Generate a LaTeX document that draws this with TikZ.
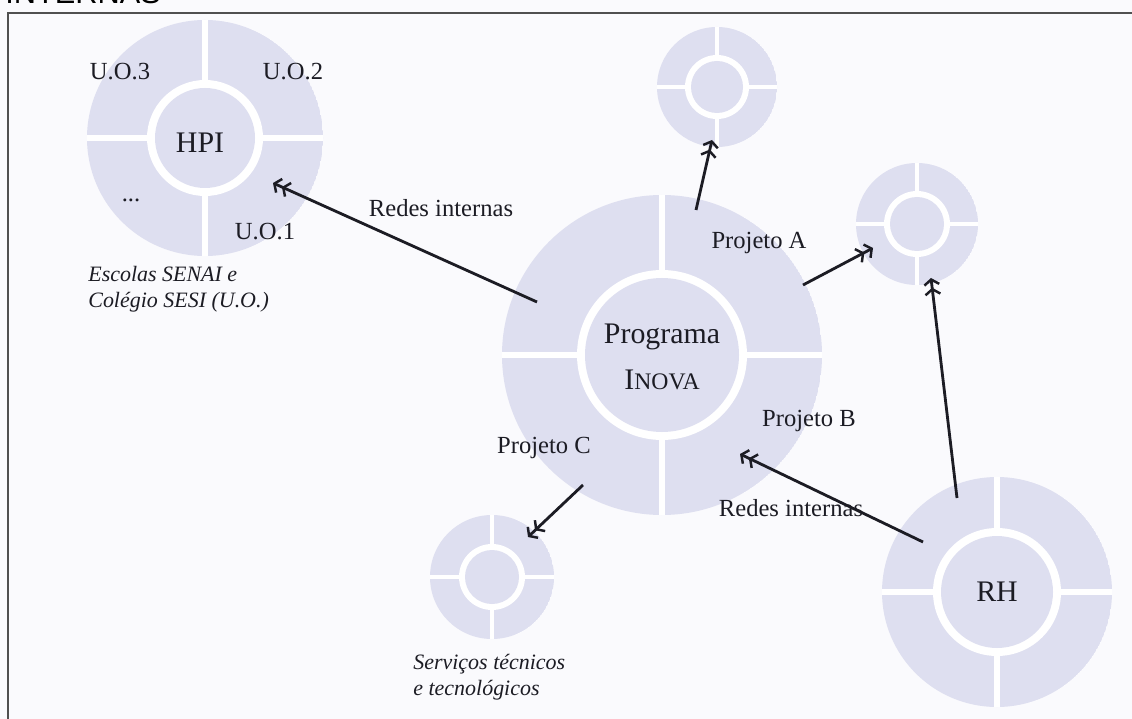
\documentclass[tikz,border=0pt]{standalone}
\usepackage{fontspec}
\setmainfont{Liberation Serif}
\newfontfamily\sansf{Liberation Sans}
\usetikzlibrary{arrows.meta,calc}
\definecolor{disc}{RGB}{222,223,240}
\definecolor{paper}{RGB}{250,250,253}
\definecolor{ink}{RGB}{28,28,36}
\definecolor{framec}{RGB}{80,80,80}
% #1 name, #2 x, #3 y, #4 outer r, #5 inner r, #6 gap (all px)
\newcommand{\RingDisc}[6]{%
  \coordinate (#1) at (#2,#3);
  \begin{scope}
    \clip (#1) circle[radius=#4];
    \fill[disc] (#1) circle[radius=#4];
    \fill[white] ($(#1)+(-#4-2,-#6/2+1)$) rectangle ($(#1)+(#4+2,#6/2-1)$);
    \fill[white] ($(#1)+(-#6/2+1,-#4-2)$) rectangle ($(#1)+(#6/2-1,#4+2)$);
    \fill[white] (#1) circle[radius=#5+#6];
    \fill[disc] (#1) circle[radius=#5];
  \end{scope}}
\tikzset{
  lbl/.style={text=ink, inner sep=0pt, font=\fontsize{14}{16}\selectfont},
  big/.style={text=ink, inner sep=0pt, font=\fontsize{17}{20}\selectfont},
  captext/.style={text=ink, inner sep=0pt, align=left, font=\fontsize{12.5}{14.5}\selectfont\itshape},
  conn/.style={draw=ink, line width=1.6pt,
    -{Straight Barb[length=3pt,width=8.5pt,line width=1.4pt,sep=1pt] Straight Barb[length=3pt,width=8.5pt,line width=1.4pt]}}
}
\begin{document}
\begin{tikzpicture}[x=0.02cm,y=-0.02cm]
\useasboundingbox (0,0) rectangle (1132,719);
\fill[paper] (0,0) rectangle (1132,719);
% title (cut off at the top, as in the reference)
\node[anchor=base west, inner sep=0pt, font=\sansf\fontsize{17.5}{20}\selectfont] (title) at (5,4) {INTERNAS};
% frame
\draw[framec, line width=1.2pt] (1140,13) -- (8,13) -- (8,730);
% discs
\RingDisc{hpi}{205}{138}{118}{50}{8}
\RingDisc{inova}{662}{355}{160}{77}{8}
\RingDisc{pa}{717}{87}{60}{26}{6}
\RingDisc{pb}{917}{224}{61}{27}{6}
\RingDisc{sv}{492}{577}{62}{27}{6}
\RingDisc{rh}{997}{592}{115}{56}{8}
% labels
\node[lbl] (uo3) at (120,72) {U.O.3};
\node[lbl] (uo2) at (293,72) {U.O.2};
\node[big] (hpit) at (200,143) {HPI};
\node[lbl] (dots) at (131,200) {...};
\node[lbl] (uo1) at (265,232) {U.O.1};
\node[lbl] (redes1) at (441,208) {Redes internas};
\node[captext, anchor=north west] (escolas) at (88,266) {Escolas SENAI e\\Colégio SESI (U.O.)};
\node[lbl] (proja) at (759,243) {Projeto A};
\node[big] (prog) at (662,337) {Programa};
\node[big] (inovat) at (662,380) {I{\fontsize{13.5}{16}\selectfont NOVA}};
\node[lbl] (projb) at (809,421) {Projeto B};
\node[lbl] (projc) at (544,448) {Projeto C};
\node[lbl] (redes2) at (791,508) {Redes internas};
\node[big] (rht) at (997,592) {RH};
\node[captext, anchor=north west] (serv) at (413,654) {Serviços técnicos\\e tecnológicos};
% connector end points
\coordinate (c1s) at (537,302); \coordinate (c1e) at (273,183);
\coordinate (c2s) at (696,210); \coordinate (c2e) at (712,140);
\coordinate (c3s) at (803,285); \coordinate (c3e) at (873,248);
\coordinate (c4s) at (957,498); \coordinate (c4e) at (931,278);
\coordinate (c5s) at (923,542); \coordinate (c5e) at (740,454);
\coordinate (c6s) at (583,485); \coordinate (c6e) at (528,537);
\draw[conn] (c1s) -- (c1e);
\draw[conn] (c2s) -- (c2e);
\draw[conn] (c3s) -- (c3e);
\draw[conn] (c4s) -- (c4e);
\draw[conn] (c5s) -- (c5e);
\draw[conn] (c6s) -- (c6e);
\end{tikzpicture}
\end{document}
